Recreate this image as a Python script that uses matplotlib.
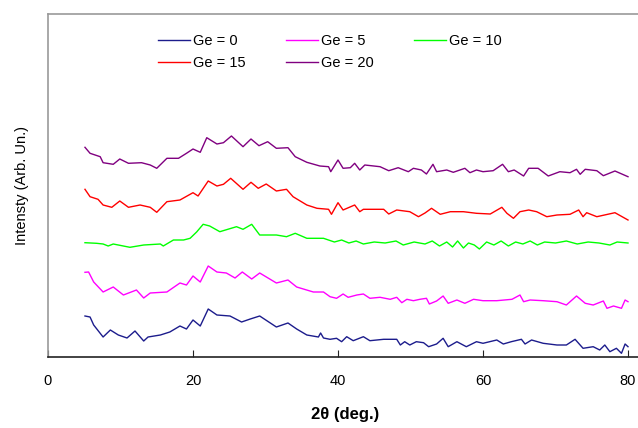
import matplotlib
matplotlib.use("Agg")
import matplotlib.pyplot as plt

plt.rcParams['font.family'] = ['Liberation Sans', 'DejaVu Sans']

# ---- data (2theta in degrees, intensity in arbitrary units, offset already included) ----
x_ge0 = [5.1, 5.8, 6.3, 7.6, 8.6, 9.7, 10.9, 12.0, 13.2, 13.8, 15.5, 16.8, 18.2, 19.1, 20.0, 21.0,
         22.1, 23.3, 25.1, 26.7, 27.9, 29.2, 31.5, 33.1, 34.3, 35.7, 37.3, 37.6, 38.0,
         38.9, 39.8, 40.5, 41.2, 42.1, 43.5, 44.4, 46.3, 48.1, 48.6, 49.2, 49.9, 50.8, 51.8, 52.5,
         53.6, 54.5, 55.2, 56.4, 57.7, 59.1, 60.0, 61.9, 62.8, 63.9, 65.3, 65.8, 66.7, 68.3, 70.2,
         71.5, 72.7, 73.8, 75.2, 76.1, 76.8, 77.5, 78.4, 79.1, 79.6, 80.0]
y_ge0 = [41, 40, 32, 20, 27, 22, 19, 26, 16, 20, 22, 25, 31, 28, 37, 31,
         48, 42, 41, 35, 38, 41, 30, 34, 28, 22, 20, 24, 19,
         17.7, 18.7, 15.3, 20.3, 16.3, 20.3, 16.3, 17.7, 17.7, 12, 15.3, 12, 15.3, 14.3, 10.3,
         13, 18.7, 10.3, 15.3, 10.3, 15.3, 13.7, 17, 13, 15.3, 17.7, 13, 17, 13.7, 12,
         12, 17.7, 8.7, 10.3, 7, 12, 5.3, 8.7, 3.7, 13, 10.3]

x_ge5 = [5.1, 5.6, 6.3, 7.6, 9.0, 10.4, 12.2, 13.2, 14.1, 16.4, 18.2, 19.1, 20.0, 21.0, 22.1,
         23.3, 24.6, 25.8, 26.8, 28.1, 29.2, 31.5, 33.1, 34.3, 36.6, 38.0,
         38.9, 39.8, 40.7, 41.4, 42.6, 43.5, 44.4, 45.8, 47.2, 48.1, 48.8, 49.5, 50.4, 51.3, 52.2,
         52.6, 53.6, 54.5, 55.2, 56.4, 57.5, 58.7, 60.0, 61.9, 64.0, 65.1, 65.6, 66.5, 68.3, 70.2,
         71.5, 72.9, 74.1, 75.2, 76.6, 77.1, 78.0, 79.1, 79.6, 80.0]
y_ge5 = [84.7, 85, 75, 65, 70, 62, 67, 59, 64, 65, 74, 72, 81, 75, 91,
         85, 84, 79, 85, 78, 84, 74, 77, 70, 65, 65,
         60.3, 58.7, 63, 59.7, 62, 63, 58.7, 59.7, 57.7, 59.7, 54.3, 57.7, 56.3, 57.7, 58.7,
         53, 56, 61, 53.7, 57, 53.7, 57.7, 56.3, 56.3, 57.7, 62, 55.3, 57, 56.3, 55.3,
         52, 61, 53.7, 52, 56, 48.7, 51, 48.7, 57, 55.3]

x_ge10 = [5.1, 6.7, 7.6, 8.3, 9.0, 11.3, 13.2, 15.5, 15.9, 17.3, 18.7, 19.6, 20.5, 21.4, 22.3,
          23.7, 26.0, 26.9, 28.1, 29.2, 31.5, 32.9, 34.1, 35.7, 38.0,
          39.5, 40.5, 41.5, 42.5, 43.5, 45.0, 46.5, 48.0, 49.0, 50.5, 52.0, 53.0, 54.0, 55.0,
          55.8, 56.5, 57.3, 58.0, 58.8, 59.5, 60.5, 61.5, 62.5, 63.5, 64.5, 65.5, 66.5, 67.5,
          68.5, 70.0, 71.5, 73.0, 74.5, 76.0, 77.5, 78.5, 80.0]
y_ge10 = [114.3, 113.7, 113, 111, 113, 109.7, 112, 113, 111, 117, 117, 118.7, 125, 132.7, 131,
          125.3, 130.3, 127.7, 132.7, 122, 122, 120.3, 123.7, 118.7, 118.7,
          115, 117, 114, 116, 113, 115, 114, 116, 112, 115, 113, 116, 111, 115,
          110, 116, 109, 114, 112, 108, 115, 112, 116, 111, 115, 113, 116, 112,
          115, 114, 116, 113, 115, 114, 112, 115, 114]

x_ge15 = [5.1, 5.8, 6.9, 7.6, 8.8, 9.9, 11.1, 12.7, 14.1, 15.0, 16.4, 18.2, 20.0, 20.7, 22.1,
          23.3, 24.2, 25.2, 26.9, 28.0, 29.0, 30.1, 31.5, 32.9, 33.8, 35.7, 37.1, 38.7, 39.1,
          40.0, 40.7, 42.3, 43.0, 43.5, 46.3, 47.0, 48.1, 49.9, 51.1, 52.0, 52.9, 54.1, 55.5,
          57.3, 59.1, 61.0, 62.6, 63.3, 64.2, 65.1, 66.3, 67.4, 68.8, 70.2, 72.0, 73.2, 73.8,
          74.3, 75.7, 78.2, 80.0]
y_ge15 = [167.7, 160.3, 157.7, 152, 149.7, 156, 149.7, 152, 149.7, 144.7, 155.3, 157, 164.3, 161, 176,
          171, 172.7, 178.7, 167.7, 174.7, 168.7, 173, 166, 167.7, 160.3, 152, 148.7, 147.7, 142.7,
          154.3, 147, 152, 145.3, 147.7, 147.7, 143, 147, 145.3, 140.3, 144, 148.7, 142.7, 145.3,
          145.3, 143.7, 143, 149.7, 143.7, 138.7, 145.3, 147, 145.3, 140.3, 142, 142.7, 147, 140.3,
          144.3, 140.3, 144.3, 137]

x_ge20 = [5.1, 5.8, 7.2, 7.6, 9.0, 9.9, 11.1, 12.9, 14.1, 15.0, 16.4, 18.0, 19.1, 20.0, 21.0,
          21.9, 23.3, 24.2, 25.3, 26.9, 28.0, 29.1, 30.3, 31.5, 33.1, 34.1, 35.7, 37.5, 38.7,
          39.0, 40.0, 40.7, 41.7, 42.3, 43.0, 43.7, 45.8, 47.0, 48.3, 49.7, 50.4, 51.5, 52.2,
          53.1, 53.6, 55.0, 55.9, 57.5, 58.2, 59.1, 60.0, 61.4, 62.7, 63.5, 64.3, 65.6, 66.3,
          67.6, 69.0, 70.6, 72.0, 72.9, 73.4, 74.1, 75.7, 76.6, 78.2, 80.0]
y_ge20 = [209.7, 203.7, 200.3, 194.3, 192.7, 198, 193.7, 194.3, 192, 188.7, 198.7, 198.7, 203.7, 208, 204.7,
          219.3, 213, 214.3, 221, 210.3, 218, 211.3, 215.3, 208.7, 209.3, 200.3, 194.7, 191, 190.3,
          185.3, 197, 188.7, 189.3, 193.7, 187, 192, 190.3, 186.3, 189.3, 185.3, 188.7, 187, 183,
          192.7, 185.3, 187, 184.7, 188.7, 184.3, 187, 185.3, 186.3, 192.7, 185.3, 187, 181, 188.7,
          188.7, 181, 185.3, 184.3, 187.7, 182.7, 187.7, 186.3, 181.3, 186, 180.3]

labels = ["Ge = 0", "Ge = 5", "Ge = 10", "Ge = 15", "Ge = 20"]
colors = ["#1c1c8c", "#ff00ff", "#00ff00", "#ff0000", "#800080"]
series = [(x_ge0, y_ge0), (x_ge5, y_ge5), (x_ge10, y_ge10), (x_ge15, y_ge15), (x_ge20, y_ge20)]

fig = plt.figure(figsize=(6.38, 4.28), dpi=100)
W, H = 638, 428
left_px, right_px, top_px, bottom_px = 48, 642.5, 14, 357
ax = fig.add_axes([left_px / W, 1 - bottom_px / H, (right_px - left_px) / W, (bottom_px - top_px) / H])

lines = []
for (xs, ys), lab, c in zip(series, labels, colors):
    ln, = ax.plot(xs, ys, color=c, lw=1.0, label=lab)
    lines.append(ln)

ax.set_xlim(0, 82)
ax.set_ylim(0, 343)
ax.set_xticks([0, 20, 40, 60, 80])
ax.set_yticks([])
ax.tick_params(axis='x', direction='in', length=5, labelsize=10.5, pad=12, color='#222222')
for s in ['left', 'top', 'right']:
    ax.spines[s].set_color('#999999')
    ax.spines[s].set_linewidth(1.2)
ax.spines['bottom'].set_color('#222222')
ax.spines['bottom'].set_linewidth(1.2)

ax.set_xlabel("2θ (deg.)", fontsize=12, fontweight='bold', labelpad=14)
ax.set_ylabel("Intensty (Arb. Un.)", fontsize=10.5, labelpad=14)

order = [0, 3, 1, 4, 2]
ax.legend([lines[i] for i in order], [labels[i] for i in order], ncol=3, frameon=False,
          loc='upper left', bbox_to_anchor=(0.163, 0.979), fontsize=10.5,
          handlelength=2.2, handletextpad=0.2, columnspacing=2.75, labelspacing=0.55)

fig.savefig("out.png", dpi=100)
